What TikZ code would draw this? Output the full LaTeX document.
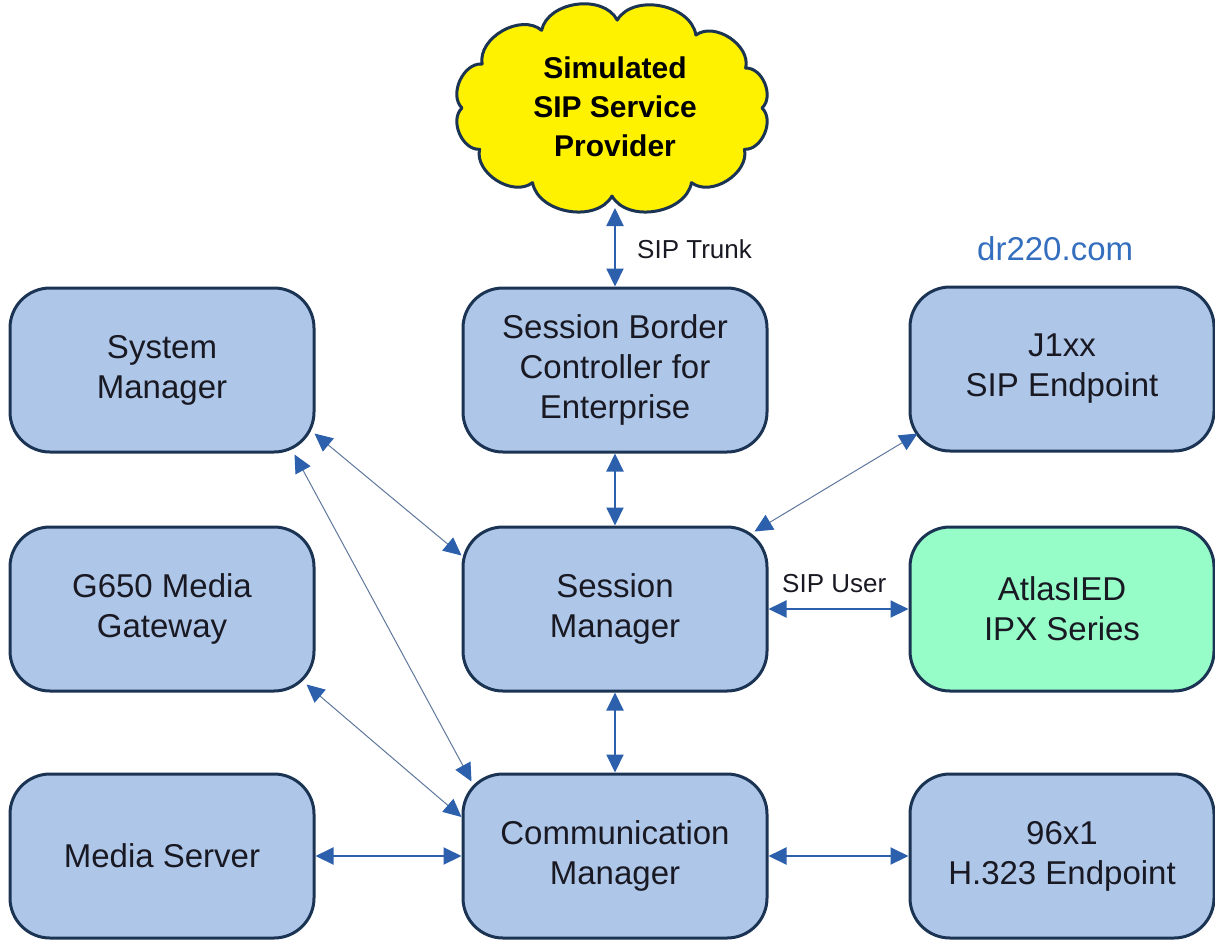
\documentclass[tikz,border=0pt]{standalone}
\usepackage{fontspec}
\setmainfont{Liberation Sans}
\usetikzlibrary{arrows.meta,calc}
\definecolor{boxfill}{RGB}{174,198,232}
\definecolor{boxline}{RGB}{28,52,84}
\definecolor{greenfill}{RGB}{150,252,200}
\definecolor{arrowblue}{RGB}{44,96,172}
\definecolor{diagline}{RGB}{95,120,155}
\definecolor{urlblue}{RGB}{52,110,190}
\definecolor{txt}{RGB}{25,25,35}
\begin{document}
\begin{tikzpicture}[x=1pt,y=-1pt,
  box/.style={draw=boxline,fill=boxfill,line width=3pt,rounded corners=40pt,
    minimum width=304pt,minimum height=164pt,align=center,text=txt,
    font=\fontsize{33}{40}\selectfont,inner sep=0pt},
  conn/.style={arrowblue,line width=2pt,{Triangle[length=18pt,width=17pt]}-{Triangle[length=18pt,width=17pt]}},
  dconn/.style={draw=diagline,line width=1pt,{Triangle[length=18pt,width=17pt,color=arrowblue]}-{Triangle[length=18pt,width=17pt,color=arrowblue]}},
  lbl/.style={text=txt,font=\fontsize{26}{30}\selectfont,inner sep=0pt,anchor=base west},
  cloudshape/.style={draw=boxline,fill=yellow,line width=3pt,line join=round}]
\useasboundingbox (0,0) rectangle (1215,940);
\fill[white] (0,0) rectangle (1215,940);

\draw[cloudshape,shift={(612,108)}] (0:150pt and 88pt)
  \foreach \a in {27,56,88,118,150,180,208,238,270,302,332,360} { to[bend right=70] (\a:150pt and 88pt) } -- cycle;
\node[align=center,text=black,inner sep=0pt,
  font=\bfseries\fontsize{30}{39}\selectfont] (cloud) at (615,107)
  {Simulated\\SIP Service\\Provider};

\node[box] (sysmgr) at (162,370) {System\\Manager};
\node[box] (sbc) at (615,370) {Session Border\\Controller for\\Enterprise};
\node[box] (j1xx) at (1062,369) {J1xx\\SIP Endpoint};
\node[box] (g650) at (162,609) {G650 Media\\Gateway};
\node[box] (sm) at (615,609) {Session\\Manager};
\node[box,fill=greenfill] (atlas) at (1062,609) {AtlasIED\\IPX Series};
\node[box] (ms) at (162,856) {Media Server};
\node[box] (cm) at (615,856) {Communication\\Manager};
\node[box] (h323) at (1062,856) {96x1\\H.323 Endpoint};

\node[text=urlblue,font=\fontsize{33}{36}\selectfont,inner sep=0pt,anchor=base west] (url) at (977,260) {dr220.com};

\coordinate (cbot) at (615,208);
\draw[conn] (cbot) -- (sbc.north);
\node[lbl] (trunk) at (637,258) {SIP Trunk};
\draw[conn] (sbc.south) -- (sm.north);
\draw[conn] (sm.south) -- (cm.north);
\draw[conn] (sm.east) -- (atlas.west);
\node[lbl] (sipuser) at (782,592) {SIP User};
\draw[conn] (cm.east) -- (h323.west);
\draw[conn] (ms.east) -- (cm.west);

\coordinate (a1) at ($(sysmgr.south east)+(-1,-20)$);
\coordinate (a2) at ($(sm.north west)+(0,30)$);
\draw[dconn] (a1) -- (a2);
\coordinate (b1) at ($(sysmgr.south east)+(-21,1)$);
\coordinate (b2) at ($(cm.north west)+(10,9)$);
\draw[dconn] (b1) -- (b2);
\coordinate (c1) at ($(g650.south east)+(-9,-8)$);
\coordinate (c2) at ($(cm.west)+(0,-39)$);
\draw[dconn] (c1) -- (c2);
\coordinate (d1) at ($(j1xx.south west)+(9,-19)$);
\coordinate (d2) at ($(sm.north east)+(-14,6)$);
\draw[dconn] (d1) -- (d2);
\end{tikzpicture}
\end{document}
